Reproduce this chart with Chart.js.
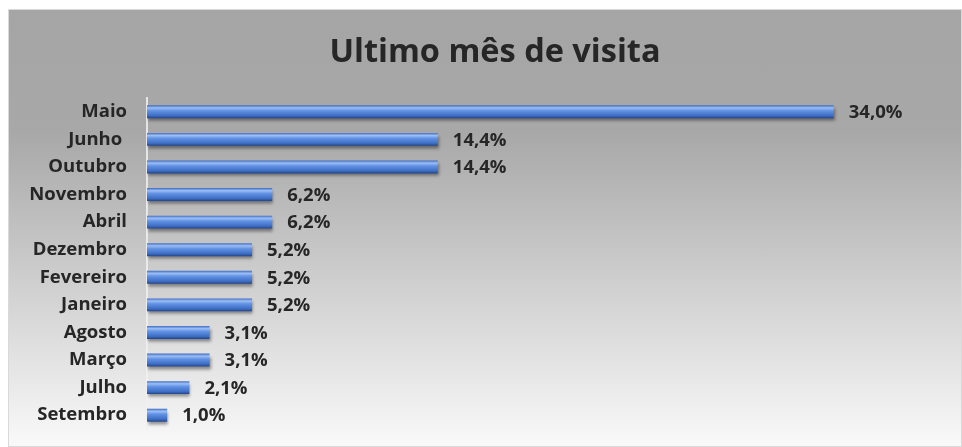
<!DOCTYPE html>
<html>
<head>
<meta charset="utf-8">
<script src="https://cdn.jsdelivr.net/npm/chart.js@4"></script>
<style>
  body { margin: 0; background: #ffffff; }
  #caixa {
    position: absolute; left: 8px; top: 9px; width: 952px; height: 436px;
    border: 1px solid #d9d9d9;
    background: linear-gradient(to bottom, #a5a5a5 0%, #a8a8a8 28%, #f9f9f9 100%);
  }
</style>
</head>
<body>
<div id="caixa"><canvas id="grafico" width="952" height="436"></canvas></div>
<script>
// dados
const meses = ["Maio", "Junho ", "Outubro", "Novembro", "Abril", "Dezembro", "Fevereiro", "Janeiro", "Agosto", "Março", "Julho", "Setembro"];
const percentagens = [34.0, 14.4, 14.4, 6.2, 6.2, 5.2, 5.2, 5.2, 3.1, 3.1, 2.1, 1.0];
const titulo = "Ultimo mês de visita";
const fonte = "'Open Sans', Lato, sans-serif";

// gradiente de cada barra + sombra
const estiloBarras = {
  id: "estiloBarras",
  beforeDatasetsDraw(chart) {
    const ctx = chart.ctx;
    chart.getDatasetMeta(0).data.forEach(function (barra) {
      const h = barra.height;
      const topo = barra.y - h / 2;
      const g = ctx.createLinearGradient(0, topo, 0, topo + h);
      g.addColorStop(0, "#3c6cc2");
      g.addColorStop(0.2, "#9dbef4");
      g.addColorStop(0.42, "#6192e4");
      g.addColorStop(0.8, "#3e6ec4");
      g.addColorStop(1, "#22448a");
      // cada barra precisa do seu proprio objeto de opcoes
      barra.options = Object.assign({}, barra.options, { backgroundColor: g });
    });
    ctx.save();
    ctx.shadowColor = "rgba(0,0,0,0.4)";
    ctx.shadowOffsetX = 1;
    ctx.shadowOffsetY = 3;
    ctx.shadowBlur = 3;
  },
  afterDatasetsDraw(chart) {
    const ctx = chart.ctx;
    ctx.restore();
    // rotulos de valor
    ctx.save();
    ctx.font = "bold 18.5px " + fonte;
    ctx.fillStyle = "#262626";
    ctx.textBaseline = "middle";
    ctx.textAlign = "left";
    chart.getDatasetMeta(0).data.forEach(function (barra, i) {
      const txt = percentagens[i].toFixed(1).replace(".", ",") + "%";
      ctx.fillText(txt, barra.x + 15, barra.y + 1);
    });
    ctx.restore();
  }
};

const config = {
  type: "bar",
  data: {
    labels: meses,
    datasets: [{
      data: percentagens,
      backgroundColor: "#4f81d9",
      borderWidth: 0,
      barPercentage: 0.47,
      categoryPercentage: 1
    }]
  },
  options: {
    indexAxis: "y",
    responsive: false,
    animation: false,
    layout: { padding: { left: 20, right: 0, top: 0, bottom: 17 } },
    plugins: {
      legend: { display: false },
      tooltip: { enabled: false },
      title: {
        display: true,
        text: titulo,
        color: "#262626",
        font: { family: fonte, size: 32.5, weight: "bold" },
        padding: { top: 23, bottom: 26 }
      }
    },
    scales: {
      x: {
        display: false,
        min: 0,
        max: 40.3
      },
      y: {
        afterFit: function (escala) {
          escala.width = 118;
          escala.paddingTop = 0;
          escala.paddingBottom = 0;
        },
        grid: { display: false, drawTicks: false },
        border: { display: true, color: "rgba(240,240,240,0.85)", width: 2 },
        ticks: {
          color: "#262626",
          padding: 20,
          font: { family: fonte, size: 18.5, weight: "bold" }
        }
      }
    }
  },
  plugins: [estiloBarras]
};

new Chart(document.getElementById("grafico").getContext("2d"), config);
</script>
</body>
</html>
